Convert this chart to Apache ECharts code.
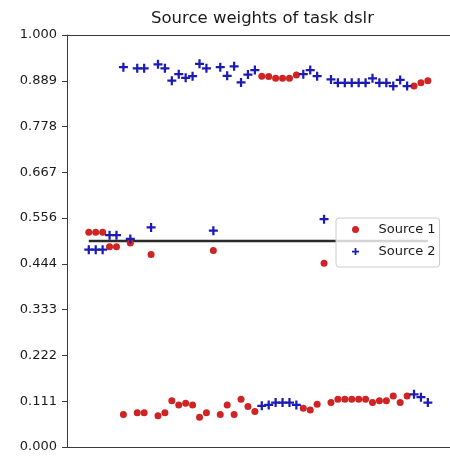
<!DOCTYPE html>
<html>
<head>
<meta charset="utf-8">
<script src="https://cdn.jsdelivr.net/npm/echarts@6/dist/echarts.min.js"></script>
<style>
  html, body { margin: 0; padding: 0; background: #ffffff; }
  #chart { width: 450px; height: 457px; }
</style>
</head>
<body>
<div id="chart"></div>
<script>
// Run index (one pair of weights per run)
const runs = [
  0, 1, 2, 3, 4, 5, 6, 7, 8, 9,
  10, 11, 12, 13, 14, 15, 16, 17, 18, 19,
  20, 21, 22, 23, 24, 25, 26, 27, 28, 29,
  30, 31, 32, 33, 34, 35, 36, 37, 38, 39,
  40, 41, 42, 43, 44, 45, 46, 47, 48, 49
];

// Weight given to Source 1 in each run
const source1 = [
  0.521, 0.521, 0.521, 0.486, 0.486, 0.079, 0.495, 0.083, 0.083, 0.467,
  0.076, 0.083, 0.112, 0.102, 0.106, 0.102, 0.072, 0.083, 0.477, 0.079,
  0.102, 0.079, 0.116, 0.098, 0.086, 0.900, 0.899, 0.895, 0.895, 0.895,
  0.903, 0.094, 0.090, 0.104, 0.446, 0.108, 0.116, 0.116, 0.116, 0.116,
  0.116, 0.108, 0.112, 0.112, 0.124, 0.108, 0.124, 0.876, 0.884, 0.889
];

// Weight given to Source 2 in each run
const source2 = [
  0.479, 0.479, 0.479, 0.514, 0.514, 0.922, 0.505, 0.919, 0.919, 0.533,
  0.929, 0.919, 0.889, 0.905, 0.896, 0.900, 0.930, 0.919, 0.525, 0.922,
  0.901, 0.924, 0.885, 0.904, 0.915, 0.100, 0.102, 0.108, 0.108, 0.108,
  0.102, 0.905, 0.915, 0.900, 0.553, 0.892, 0.884, 0.884, 0.884, 0.884,
  0.884, 0.895, 0.884, 0.884, 0.876, 0.891, 0.876, 0.128, 0.121, 0.108
];

// Equal-weight reference level
const equalWeight = 0.5;

const seriesNames = ['Source 1', 'Source 2'];
const titleText = 'Source weights of task dslr';

const FONT = 'DejaVu Sans';
const RED = '#d02424';
const BLUE = '#1c1cb4';
const PLUS = 'path://M3,0h2v3h3v2h-3v3h-2v-3h-3v-2h3z';

const pairs = (xs, ys) => xs.map((x, i) => [x, ys[i]]);

const chart = echarts.init(document.getElementById('chart'), null, { renderer: 'canvas' });

const xMin = -3.15, xMax = 52.2;
const spine = { show: true, onZero: false, lineStyle: { color: '#3a3a3a', width: 1 } };

chart.setOption({
  animation: false,
  backgroundColor: '#ffffff',
  title: {
    text: titleText,
    left: 146,
    top: 5,
    textStyle: { fontFamily: FONT, fontSize: 16.5, fontWeight: 'normal', color: '#1a1a1a' }
  },
  grid: { left: 67, top: 35, right: -4, bottom: 10, containLabel: false },
  xAxis: [
    {
      type: 'value', min: xMin, max: xMax, position: 'bottom',
      axisLine: spine, axisTick: { show: false }, axisLabel: { show: false }, splitLine: { show: false }
    },
    {
      type: 'value', min: xMin, max: xMax, position: 'top',
      axisLine: spine, axisTick: { show: false }, axisLabel: { show: false }, splitLine: { show: false }
    }
  ],
  yAxis: {
    type: 'value', min: 0, max: 1, interval: 1 / 9,
    axisLine: spine,
    axisTick: { show: true, length: 5, lineStyle: { color: '#3a3a3a', width: 1 } },
    axisLabel: {
      margin: 10,
      fontFamily: FONT, fontSize: 13, color: '#1a1a1a',
      formatter: v => v.toFixed(3)
    },
    splitLine: { show: false }
  },
  legend: {
    left: 336, top: 218,
    orient: 'vertical',
    padding: [5, 4, 9, 16],
    itemGap: 9,
    itemWidth: 36, itemHeight: 7,
    backgroundColor: 'rgba(255,255,255,0.8)',
    borderColor: '#cccccc', borderWidth: 1, borderRadius: 3,
    textStyle: { fontFamily: FONT, fontSize: 13, color: '#1a1a1a' },
    data: [
      { name: seriesNames[0], icon: 'circle' },
      { name: seriesNames[1], icon: PLUS }
    ]
  },
  series: [
    {
      type: 'line',
      name: 'equal',
      data: [[runs[0], equalWeight], [runs[runs.length - 1], equalWeight]],
      symbol: 'none',
      lineStyle: { color: '#2a2a2a', width: 2.5 },
      z: 1,
      silent: true
    },
    {
      type: 'scatter',
      name: seriesNames[0],
      data: pairs(runs, source1),
      symbol: 'circle',
      symbolSize: 7,
      itemStyle: { color: RED, opacity: 1 },
      z: 2
    },
    {
      type: 'scatter',
      name: seriesNames[1],
      data: pairs(runs, source2),
      symbol: PLUS,
      symbolSize: 9,
      itemStyle: { color: BLUE, opacity: 1 },
      z: 3
    }
  ]
});
</script>
</body>
</html>
